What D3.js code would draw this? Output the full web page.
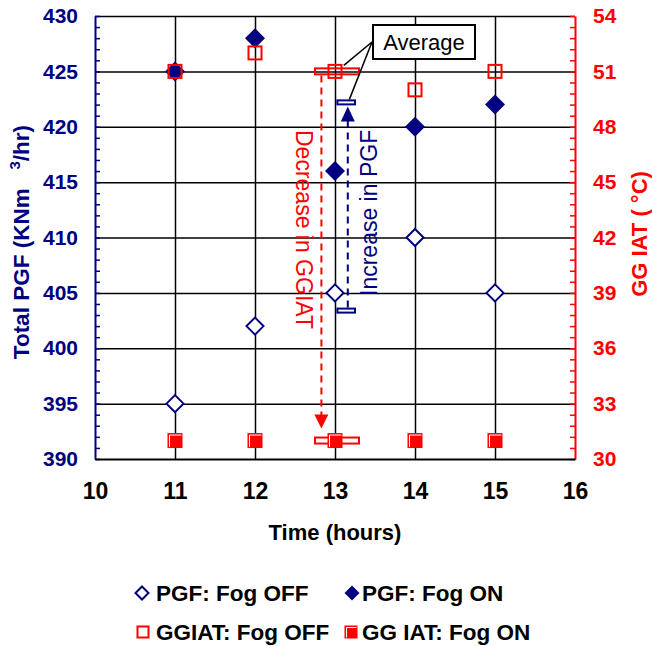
<!DOCTYPE html>
<html>
<head>
<meta charset="utf-8">
<script src="https://cdn.jsdelivr.net/npm/d3@7"></script>
<style>
  body { margin: 0; background: #fff; }
  text { font-family: Arial, "Liberation Sans", sans-serif; }
</style>
</head>
<body>
<svg id="chart" width="652" height="646"></svg>
<script>
// data
const hours = [11, 12, 13, 14, 15];
const pgfOff = [395, 402, 405, 410, 405];
const pgfOn = [425, 428, 416, 420, 422];
const ggiatOff = [51, 52, 51, 50, 51];
const ggiatOn = [31, 31, 31, 31, 31];

const xTicks = [10, 11, 12, 13, 14, 15, 16];
const leftTicks = [390, 395, 400, 405, 410, 415, 420, 425, 430];
const rightTicks = [30, 33, 36, 39, 42, 45, 48, 51, 54];

const navy = "#000080";
const red = "#ff0000";

let svg = d3.select("#chart");
let margin = {left: 95, right: 77, top: 16, bottom: 187};
let width = 652 - margin.left - margin.right;
let height = 646 - margin.top - margin.bottom;

let x = d3.scaleLinear().domain([10, 16]).range([margin.left, margin.left + width]);
let yL = d3.scaleLinear().domain([390, 430]).range([margin.top + height, margin.top]);
let yR = d3.scaleLinear().domain([30, 54]).range([margin.top + height, margin.top]);

let bottomY = margin.top + height;
let rightX = margin.left + width;

// gridlines
svg.append("g")
  .attr("transform", "translate(" + margin.left + ",0)")
  .call(d3.axisLeft(yL).tickValues(leftTicks.slice(1)).tickSize(-width).tickFormat(""))
  .call(g => g.select(".domain").remove())
  .selectAll("line").attr("stroke", "#000").attr("stroke-width", 1.5);

svg.append("g")
  .attr("transform", "translate(0," + bottomY + ")")
  .call(d3.axisBottom(x).tickValues(hours).tickSize(-height).tickFormat(""))
  .call(g => g.select(".domain").remove())
  .selectAll("line").attr("stroke", "#000").attr("stroke-width", 1.5);

// left axis: minor ticks inside, labels
let leftMinor = d3.range(390, 431, 1);
svg.append("g")
  .attr("transform", "translate(" + margin.left + ",0)")
  .call(d3.axisLeft(yL).tickValues(leftMinor).tickSize(-5).tickSizeOuter(0).tickFormat(""))
  .call(g => g.select(".domain").attr("stroke", navy).attr("stroke-width", 2))
  .selectAll("line").attr("stroke", navy).attr("stroke-width", 1.5);

svg.append("g")
  .attr("transform", "translate(" + margin.left + ",0)")
  .call(d3.axisLeft(yL).tickValues(leftTicks).tickSize(0).tickPadding(17).tickFormat(d3.format("d")))
  .call(g => g.select(".domain").remove())
  .selectAll("text")
  .attr("fill", navy)
  .style("font-size", "21px")
  .style("font-weight", "bold")
  .style("font-family", "Arial, 'Liberation Sans', sans-serif");

// right axis
let rightMinor = d3.range(0, 41).map(i => 30 + i * 0.6);
svg.append("g")
  .attr("transform", "translate(" + rightX + ",0)")
  .call(d3.axisRight(yR).tickValues(rightMinor).tickSize(-5).tickSizeOuter(0).tickFormat(""))
  .call(g => g.select(".domain").attr("stroke", red).attr("stroke-width", 2))
  .selectAll("line").attr("stroke", red).attr("stroke-width", 1.5);

svg.append("g")
  .attr("transform", "translate(" + rightX + ",0)")
  .call(d3.axisRight(yR).tickValues(rightTicks).tickSize(0).tickPadding(18).tickFormat(d3.format("d")))
  .call(g => g.select(".domain").remove())
  .selectAll("text")
  .attr("fill", red)
  .style("font-size", "21px")
  .style("font-weight", "bold")
  .style("font-family", "Arial, 'Liberation Sans', sans-serif");

// bottom axis
svg.append("g")
  .attr("transform", "translate(0," + bottomY + ")")
  .call(d3.axisBottom(x).tickValues(xTicks).tickSize(0).tickPadding(24).tickFormat(d3.format("d")))
  .call(g => g.select(".domain").attr("stroke", "#000").attr("stroke-width", 2))
  .selectAll("text")
  .attr("fill", "#000")
  .style("font-size", "23px")
  .style("font-weight", "bold")
  .style("font-family", "Arial, 'Liberation Sans', sans-serif");

// axis titles
svg.append("text")
  .attr("x", x(13)).attr("y", 540)
  .attr("text-anchor", "middle")
  .style("font-size", "22px").style("font-weight", "bold")
  .text("Time (hours)");

let lt = svg.append("text")
  .attr("transform", "translate(29,125) rotate(-90)")
  .attr("text-anchor", "end")
  .attr("fill", navy)
  .style("font-size", "22.5px").style("font-weight", "bold");
lt.append("tspan").text("Total PGF (KNm\u00a0\u00a0\u00a0");
lt.append("tspan").attr("dy", -9).style("font-size", "15px").text("3");
lt.append("tspan").attr("dy", 9).text("/hr)");

svg.append("text")
  .attr("transform", "translate(647,234) rotate(-90)")
  .attr("text-anchor", "middle")
  .attr("fill", red)
  .style("font-size", "22px").style("font-weight", "bold")
  .text("GG IAT ( °C)");

// averages
let avgPgfOff = d3.mean(pgfOff), avgPgfOn = d3.mean(pgfOn);
let avgGgOff = d3.mean(ggiatOff), avgGgOn = d3.mean(ggiatOn);

let ann = svg.append("g");

// red dashed arrow (decrease in GGIAT)
let redX = x(12.83);
ann.append("line")
  .attr("x1", redX).attr("x2", redX)
  .attr("y1", yR(avgGgOff) + 4).attr("y2", yR(avgGgOn) - 25)
  .attr("stroke", red).attr("stroke-width", 2).attr("stroke-dasharray", "7,5");
ann.append("path")
  .attr("d", "M" + (redX - 7) + "," + (yR(avgGgOn) - 26) + "L" + (redX + 7) + "," + (yR(avgGgOn) - 26) +
    "L" + redX + "," + (yR(avgGgOn) - 12) + "Z")
  .attr("fill", red);

// navy dashed arrow (increase in PGF)
let navyX = x(13.16);
ann.append("line")
  .attr("x1", navyX).attr("x2", navyX)
  .attr("y1", yL(avgPgfOff) - 3).attr("y2", yL(avgPgfOn) + 18)
  .attr("stroke", navy).attr("stroke-width", 2).attr("stroke-dasharray", "7,5");
ann.append("path")
  .attr("d", "M" + (navyX - 7) + "," + (yL(avgPgfOn) + 19) + "L" + (navyX + 7) + "," + (yL(avgPgfOn) + 19) +
    "L" + navyX + "," + (yL(avgPgfOn) + 4) + "Z")
  .attr("fill", navy);

ann.append("text")
  .attr("transform", "translate(296," + 130 + ") rotate(90)")
  .attr("fill", red)
  .style("font-size", "23px")
  .text("Decrease in GGIAT");

ann.append("text")
  .attr("transform", "translate(377," + 296 + ") rotate(-90)")
  .attr("fill", navy)
  .style("font-size", "23px")
  .text("Increase in PGF");

// average bars
let redBars = [avgGgOff, avgGgOn];
ann.selectAll(".redbar").data(redBars).enter().append("rect")
  .attr("class", "redbar")
  .attr("x", x(12.75)).attr("width", x(13.3) - x(12.75))
  .attr("y", d => yR(d) - 3).attr("height", 6)
  .attr("fill", "none").attr("stroke", red).attr("stroke-width", 2);

let navyBars = [avgPgfOff, avgPgfOn];
ann.selectAll(".navybar").data(navyBars).enter().append("rect")
  .attr("class", "navybar")
  .attr("x", x(13.03)).attr("width", x(13.25) - x(13.03))
  .attr("y", d => yL(d) - 2).attr("height", 4)
  .attr("fill", "#fff").attr("stroke", navy).attr("stroke-width", 2);

// "Average" callout
ann.append("rect")
  .attr("x", 373).attr("y", 25).attr("width", 102).attr("height", 34)
  .attr("fill", "#fff").attr("stroke", "#000").attr("stroke-width", 2);
ann.append("text")
  .attr("x", 424).attr("y", 50)
  .attr("text-anchor", "middle")
  .style("font-size", "22px")
  .text("Average");
ann.append("line")
  .attr("x1", 372).attr("y1", 42).attr("x2", x(13.11)).attr("y2", yR(avgGgOff) - 6)
  .attr("stroke", "#000").attr("stroke-width", 1.5);
ann.append("line")
  .attr("x1", 372).attr("y1", 42).attr("x2", x(13.18)).attr("y2", yL(avgPgfOn) - 3)
  .attr("stroke", "#000").attr("stroke-width", 1.5);

// markers
function diamond(s) {
  return "M0," + (-s) + "L" + s + ",0L0," + s + "L" + (-s) + ",0Z";
}

let pts = svg.append("g");

pts.selectAll(".pgfoff").data(hours).enter().append("path")
  .attr("class", "pgfoff")
  .attr("transform", (d, i) => "translate(" + x(d) + "," + yL(pgfOff[i]) + ")")
  .attr("d", diamond(8.5))
  .attr("fill", "#fff").attr("stroke", navy).attr("stroke-width", 2);

pts.selectAll(".pgfon").data(hours).enter().append("path")
  .attr("class", "pgfon")
  .attr("transform", (d, i) => "translate(" + x(d) + "," + yL(pgfOn[i]) + ")")
  .attr("d", diamond(10))
  .attr("fill", navy);

pts.selectAll(".ggoff").data(hours).enter().append("rect")
  .attr("class", "ggoff")
  .attr("x", d => x(d) - 6.5).attr("y", (d, i) => yR(ggiatOff[i]) - 6.5)
  .attr("width", 13).attr("height", 13)
  .attr("fill", "none").attr("stroke", red).attr("stroke-width", 2);

function filledSquare(sel, cx, cy, s) {
  sel.append("rect")
    .attr("x", cx - s / 2).attr("y", cy - s / 2).attr("width", s).attr("height", s)
    .attr("fill", red);
  sel.append("path")
    .attr("d", "M" + (cx - s / 2 + 2) + "," + (cy + s / 2 - 1) + "L" + (cx - s / 2 + 2) + "," + (cy - s / 2 + 2) +
      "L" + (cx + s / 2 - 1) + "," + (cy - s / 2 + 2))
    .attr("fill", "none").attr("stroke", "#fff").attr("stroke-width", 1);
}

hours.forEach((h, i) => filledSquare(pts, x(h), yR(ggiatOn[i]), 15));

// legend
let leg = svg.append("g").style("font-size", "22.5px").style("font-weight", "bold");
let legendItems = [
  {label: "PGF: Fog OFF", mx: 142, my: 593, tx: 156, ty: 601, kind: "odiamond"},
  {label: "PGF: Fog ON", mx: 352, my: 593, tx: 362, ty: 601, kind: "fdiamond"},
  {label: "GGIAT: Fog OFF", mx: 143, my: 632, tx: 156, ty: 640, kind: "osquare"},
  {label: "GG IAT: Fog ON", mx: 351, my: 632, tx: 362, ty: 640, kind: "fsquare"}
];
legendItems.forEach(d => {
  if (d.kind === "odiamond") {
    leg.append("path").attr("transform", "translate(" + d.mx + "," + d.my + ")")
      .attr("d", diamond(6.5)).attr("fill", "#fff").attr("stroke", navy).attr("stroke-width", 2);
  } else if (d.kind === "fdiamond") {
    leg.append("path").attr("transform", "translate(" + d.mx + "," + d.my + ")")
      .attr("d", diamond(7.5)).attr("fill", navy);
  } else if (d.kind === "osquare") {
    leg.append("rect").attr("x", d.mx - 5.5).attr("y", d.my - 5.5).attr("width", 11).attr("height", 11)
      .attr("fill", "none").attr("stroke", red).attr("stroke-width", 2);
  } else {
    filledSquare(leg, d.mx, d.my, 13);
  }
  leg.append("text").attr("x", d.tx).attr("y", d.ty).text(d.label);
});
</script>
</body>
</html>
